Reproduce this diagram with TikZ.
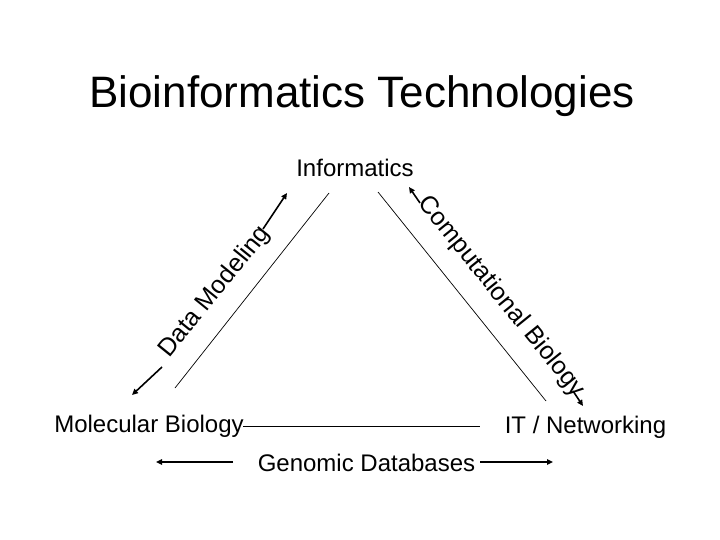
\documentclass[tikz,border=0pt]{standalone}
\usepackage{fontspec}
\setmainfont{Liberation Sans}
\usetikzlibrary{arrows.meta}
\begin{document}
\begin{tikzpicture}[x=1pt,y=-1pt,
  lbl/.style={inner sep=0pt, font=\fontsize{24}{28}\selectfont},
  rlbl/.style={inner sep=0pt, font=\fontsize{25}{29}\selectfont},
  titlelbl/.style={inner sep=0pt, font=\fontsize{44}{50}\selectfont},
  edge/.style={line width=0.7pt},
  arr/.style={line width=1.6pt, -{Triangle[length=6pt,width=5.5pt]}}]
\useasboundingbox[fill=white] (0,0) rectangle (720,540);
% texts
\node[titlelbl, anchor=base] (title) at (362,108) {Bioinformatics Technologies};
\node[lbl, anchor=base] (info) at (355,177) {Informatics};
\node[lbl, anchor=base] (mol) at (149,432) {Molecular Biology};
\node[lbl, anchor=base] (it) at (585.5,433) {IT / Networking};
\node[lbl, anchor=base] (gen) at (366.5,471) {Genomic Databases};
\node[rlbl, rotate=51] (dm) at (215,292) {Data Modeling};
\node[rlbl, rotate=-51] (cb) at (501,297) {Computational Biology};
% triangle edges
\coordinate (l1) at (175,388); \coordinate (l2) at (329,193);
\coordinate (r1) at (378,192); \coordinate (r2) at (546,401);
\coordinate (b1) at (243,426); \coordinate (b2) at (480,426);
\draw[edge] (l1) -- (l2);
\draw[edge] (r1) -- (r2);
\draw[edge] (b1) -- (b2);
% arrows
\coordinate (dma) at (162,367); \coordinate (dmat) at (132,395);
\coordinate (dmb) at (263,229); \coordinate (dmbt) at (287,193);
\draw[arr] (dma) -- (dmat);
\draw[arr] (dmb) -- (dmbt);
\coordinate (cba) at (420,203); \coordinate (cbat) at (409,187);
\coordinate (cbb) at (573,391); \coordinate (cbbt) at (583,406);
\draw[arr] (cba) -- (cbat);
\draw[arr] (cbb) -- (cbbt);
\coordinate (gla) at (233,462); \coordinate (glat) at (156,462);
\coordinate (gra) at (480,462); \coordinate (grat) at (553,462);
\draw[arr] (gla) -- (glat);
\draw[arr] (gra) -- (grat);
\end{tikzpicture}
\end{document}
